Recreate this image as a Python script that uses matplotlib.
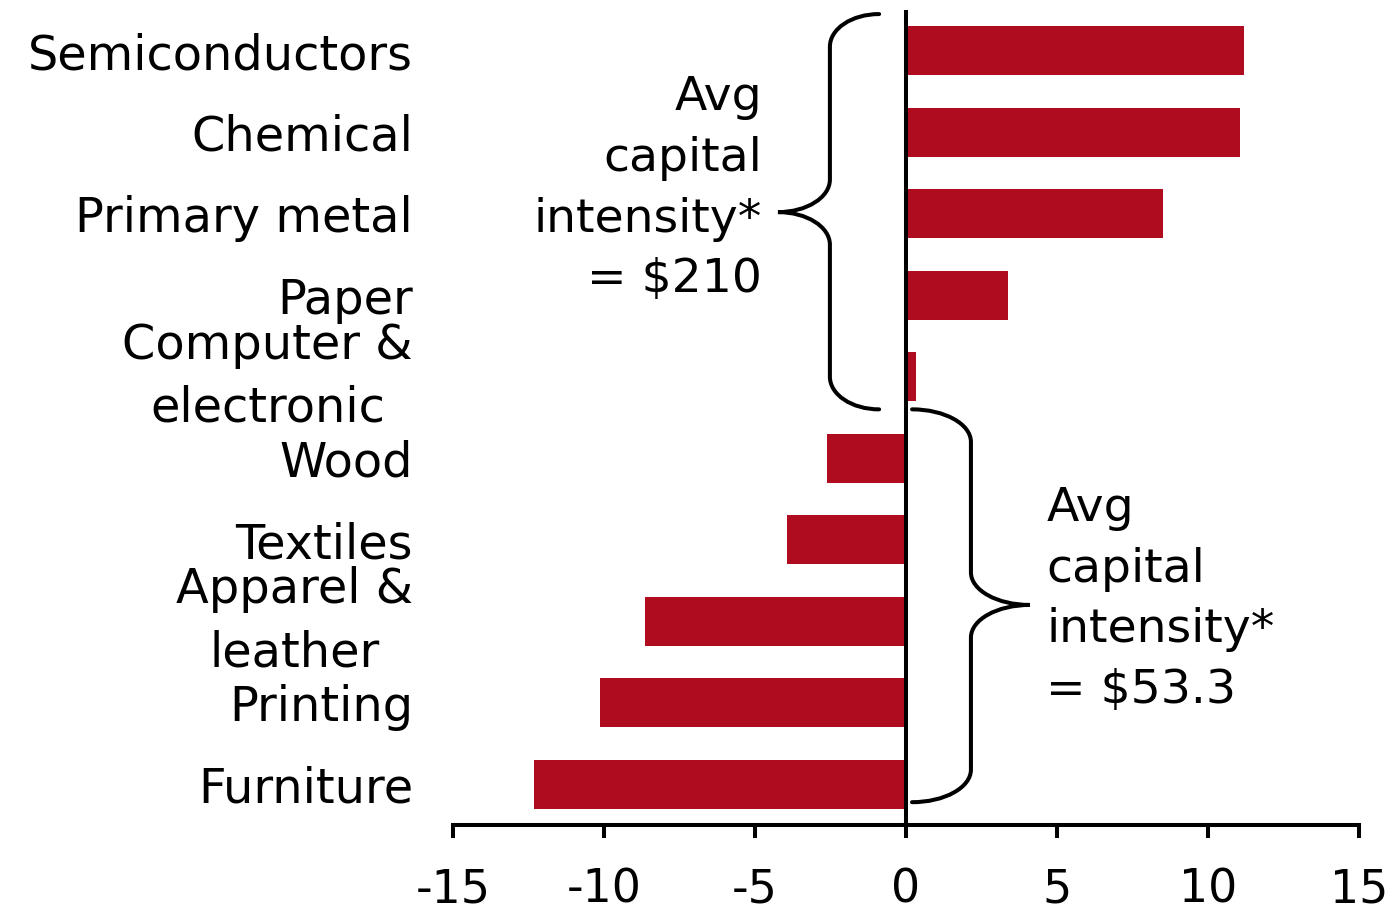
import numpy as np
import matplotlib
matplotlib.use("Agg")
import matplotlib.pyplot as plt
from matplotlib.path import Path
from matplotlib.patches import PathPatch

plt.rcParams['font.family'] = ['DejaVu Sans']

# ---- data ----
categories = ["Semiconductors", "Chemical", "Primary metal", "Paper",
              "Computer &\nelectronic", "Wood", "Textiles",
              "Apparel &\nleather", "Printing", "Furniture"]
values = [11.19, 11.06, 8.5, 3.38, 0.32, -2.62, -3.94, -8.64, -10.13, -12.32]
xticks = [-15, -10, -5, 0, 5, 10, 15]
xtick_labels = ["-15", "-10", "-5", "0", "5", "10", "15"]
note_high = "Avg\ncapital\nintensity*\n= $210"
note_low = "Avg\ncapital\nintensity*\n= $53.3"

BAR = "#AF0D1F"

fig = plt.figure(figsize=(13.93, 9.15), dpi=100)
ax = fig.add_axes([453/1393, 1-825/915, 906/1393, 815/915])

pos = np.arange(len(categories))
ax.barh(pos, values, height=0.6, color=BAR, zorder=2)
ax.axvline(0, color="black", lw=2.9, zorder=3)

ax.set_xlim(-15, 15)
ax.set_ylim(len(categories) - 0.5, -0.5)

ax.set_xticks(xticks)
ax.set_xticklabels(xtick_labels, fontsize=33)
ax.set_yticks(pos)
ax.set_yticklabels(categories, fontsize=34.5, linespacing=1.42)
for lbl in ax.get_yticklabels():
    lbl.set_multialignment("center")
    if "\n" in lbl.get_text():
        lbl.set_verticalalignment("center")

for s in ["top", "right", "left"]:
    ax.spines[s].set_visible(False)
ax.spines["bottom"].set_linewidth(2.9)
ax.tick_params(axis="x", direction="out", length=9.4, width=2.9, pad=21)
ax.tick_params(axis="y", length=0, pad=28.8)


def brace(x_tip, x_sp, x_pt, y_top, y_mid, y_bot, ry):
    k = 0.5523
    dx1 = x_tip - x_sp
    dx2 = x_sp - x_pt
    verts = [
        (x_tip, y_top),
        (x_tip - k*dx1, y_top), (x_sp, y_top + ry - k*ry), (x_sp, y_top + ry),
        (x_sp, y_mid - ry),
        (x_sp, y_mid - ry + k*ry), (x_pt + k*dx2, y_mid), (x_pt, y_mid),
        (x_pt + k*dx2, y_mid), (x_sp, y_mid + ry - k*ry), (x_sp, y_mid + ry),
        (x_sp, y_bot - ry),
        (x_sp, y_bot - ry + k*ry), (x_tip - k*dx1, y_bot), (x_tip, y_bot),
    ]
    codes = [Path.MOVETO,
             Path.CURVE4, Path.CURVE4, Path.CURVE4,
             Path.LINETO,
             Path.CURVE4, Path.CURVE4, Path.CURVE4,
             Path.CURVE4, Path.CURVE4, Path.CURVE4,
             Path.LINETO,
             Path.CURVE4, Path.CURVE4, Path.CURVE4]
    p = PathPatch(Path(verts, codes), fill=False, lw=2.9, color="black",
                  capstyle="round", clip_on=False, zorder=4)
    ax.add_patch(p)

# left brace "{" for the first five industries
brace(-0.89, -2.52, -4.24, -0.45, 1.98, 4.40, 0.4)
# right brace "}" for the last five industries
brace(0.2, 2.15, 4.1, 4.40, 6.80, 9.22, 0.4)

ax.text(-4.77, 0.30, note_high, ha="right", va="top", fontsize=34,
        linespacing=1.45, multialignment="right")
ax.text(4.64, 5.34, note_low, ha="left", va="top", fontsize=34,
        linespacing=1.45, multialignment="left")

fig.savefig("out.png", dpi=100, facecolor="white")
